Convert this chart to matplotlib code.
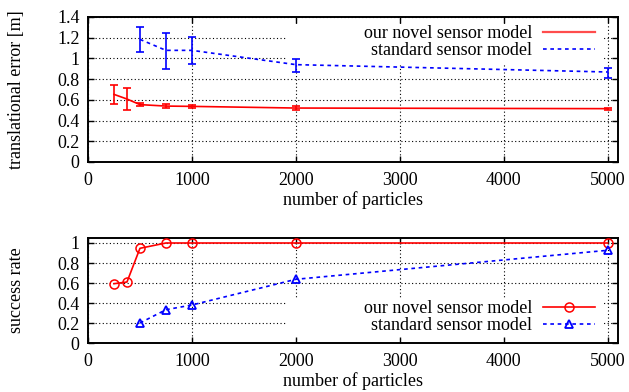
import numpy as np
import matplotlib
matplotlib.use('Agg')
import matplotlib.pyplot as plt
from matplotlib.ticker import FuncFormatter, MultipleLocator
from matplotlib.patches import Rectangle

# translational error, our novel sensor model
novel_n = [250, 375, 500, 750, 1000, 2000, 5000]
novel_err = [0.653, 0.608, 0.554, 0.540, 0.537, 0.521, 0.515]
novel_lo = [0.560, 0.500, 0.537, 0.518, 0.520, 0.502, 0.505]
novel_hi = [0.743, 0.715, 0.573, 0.560, 0.553, 0.540, 0.525]

# translational error, standard sensor model
std_n = [500, 750, 1000, 2000, 5000]
std_err = [1.184, 1.078, 1.078, 0.940, 0.869]
std_lo = [1.065, 0.900, 0.946, 0.866, 0.814]
std_hi = [1.303, 1.249, 1.207, 0.995, 0.908]

# success rate
novel_succ = [0.593, 0.610, 0.947, 1.0, 1.0, 1.0, 1.0]
std_succ = [0.200, 0.333, 0.380, 0.637, 0.927]

label_novel = 'our novel sensor model'
label_std = 'standard sensor model'

plt.rcParams['font.family'] = ['Liberation Serif', 'DejaVu Serif']
plt.rcParams['font.size'] = 13
plt.rcParams['mathtext.fontset'] = 'stix'

W, H = 629, 392
fig = plt.figure(figsize=(W/100., H/100.), dpi=100)
ax1 = fig.add_axes([88./W, 1-162./H, 530./W, 145./H])
ax2 = fig.add_axes([88./W, 1-343./H, 530./W, 105./H])

red = '#ff0000'
blue = '#0000ff'
dots = (0, (2.2, 2.2))
fmt = FuncFormatter(lambda v, p: '%g' % round(v, 3))

def style(ax, ymax, ystep):
    ax.set_xlim(0, 5100)
    ax.set_ylim(0, ymax)
    ax.xaxis.set_major_locator(MultipleLocator(1000))
    ax.yaxis.set_major_locator(MultipleLocator(ystep))
    ax.xaxis.set_major_formatter(fmt)
    ax.yaxis.set_major_formatter(fmt)
    ax.tick_params(direction='in', length=4, width=1, top=True, right=True,
                   labelsize=13)
    ax.tick_params(axis='x', pad=7)
    ax.tick_params(axis='y', pad=6)
    for s in ax.spines.values():
        s.set_linewidth(1.4)
    ax.set_axisbelow(True)
    ax.grid(True, color='black', linestyle=(0, (1, 2.2)), linewidth=0.8)
    ax.set_xlabel('number of particles', fontsize=13, labelpad=2)

# top panel
style(ax1, 1.4, 0.2)
ax1.add_patch(Rectangle((0.375, 0.683), 0.597, 0.269, transform=ax1.transAxes,
                        facecolor='white', edgecolor='none', zorder=1))
novel_yerr = [np.subtract(novel_err, novel_lo), np.subtract(novel_hi, novel_err)]
std_yerr = [np.subtract(std_err, std_lo), np.subtract(std_hi, std_err)]
ax1.errorbar(novel_n, novel_err, yerr=novel_yerr, color=red, lw=1.2,
             elinewidth=1.2, capsize=2.6, capthick=1.2, zorder=3)
ax1.errorbar(std_n, std_err, yerr=std_yerr, color=blue, lw=1.2, ls=dots,
             elinewidth=1.2, capsize=2.6, capthick=1.2, zorder=3)
h1, = ax1.plot([], [], color=red, lw=1.6, alpha=0.7, label=label_novel)
h2, = ax1.plot([], [], color=blue, lw=1.2, ls=dots, label=label_std)
ax1.set_ylabel('translational error [m]', fontsize=13)
ax1.yaxis.set_label_coords(-0.118, 0.5)
leg1 = ax1.legend(handles=[h1, h2], loc='upper right', bbox_to_anchor=(0.957, 0.945),
                  frameon=False, markerfirst=False, alignment='right',
                  borderpad=0, borderaxespad=0, labelspacing=0.0,
                  handlelength=2.9, handletextpad=0.6, fontsize=13)

# bottom panel
style(ax2, 1.05, 0.2)
ax2.add_patch(Rectangle((0.375, 0.057), 0.597, 0.373, transform=ax2.transAxes,
                        facecolor='white', edgecolor='none', zorder=1))
ax2.plot(novel_n, novel_succ, color=red, lw=1.2, marker='o', ms=6.5,
         mfc='none', mec=red, mew=1.1, label=label_novel, zorder=3)
ax2.plot(std_n, std_succ, color=blue, lw=1.2, ls=dots, marker='^', ms=6,
         mfc='none', mec=blue, mew=1.3, label=label_std, zorder=3)
ax2.set_ylabel('success rate', fontsize=13)
ax2.yaxis.set_label_coords(-0.118, 0.5)
ax2.legend(loc='upper right', bbox_to_anchor=(0.957, 0.41),
           frameon=False, markerfirst=False, alignment='right',
           borderpad=0, borderaxespad=0, labelspacing=0.0,
           handlelength=2.9, handletextpad=0.6, fontsize=13)

fig.savefig('out.png', dpi=100)
